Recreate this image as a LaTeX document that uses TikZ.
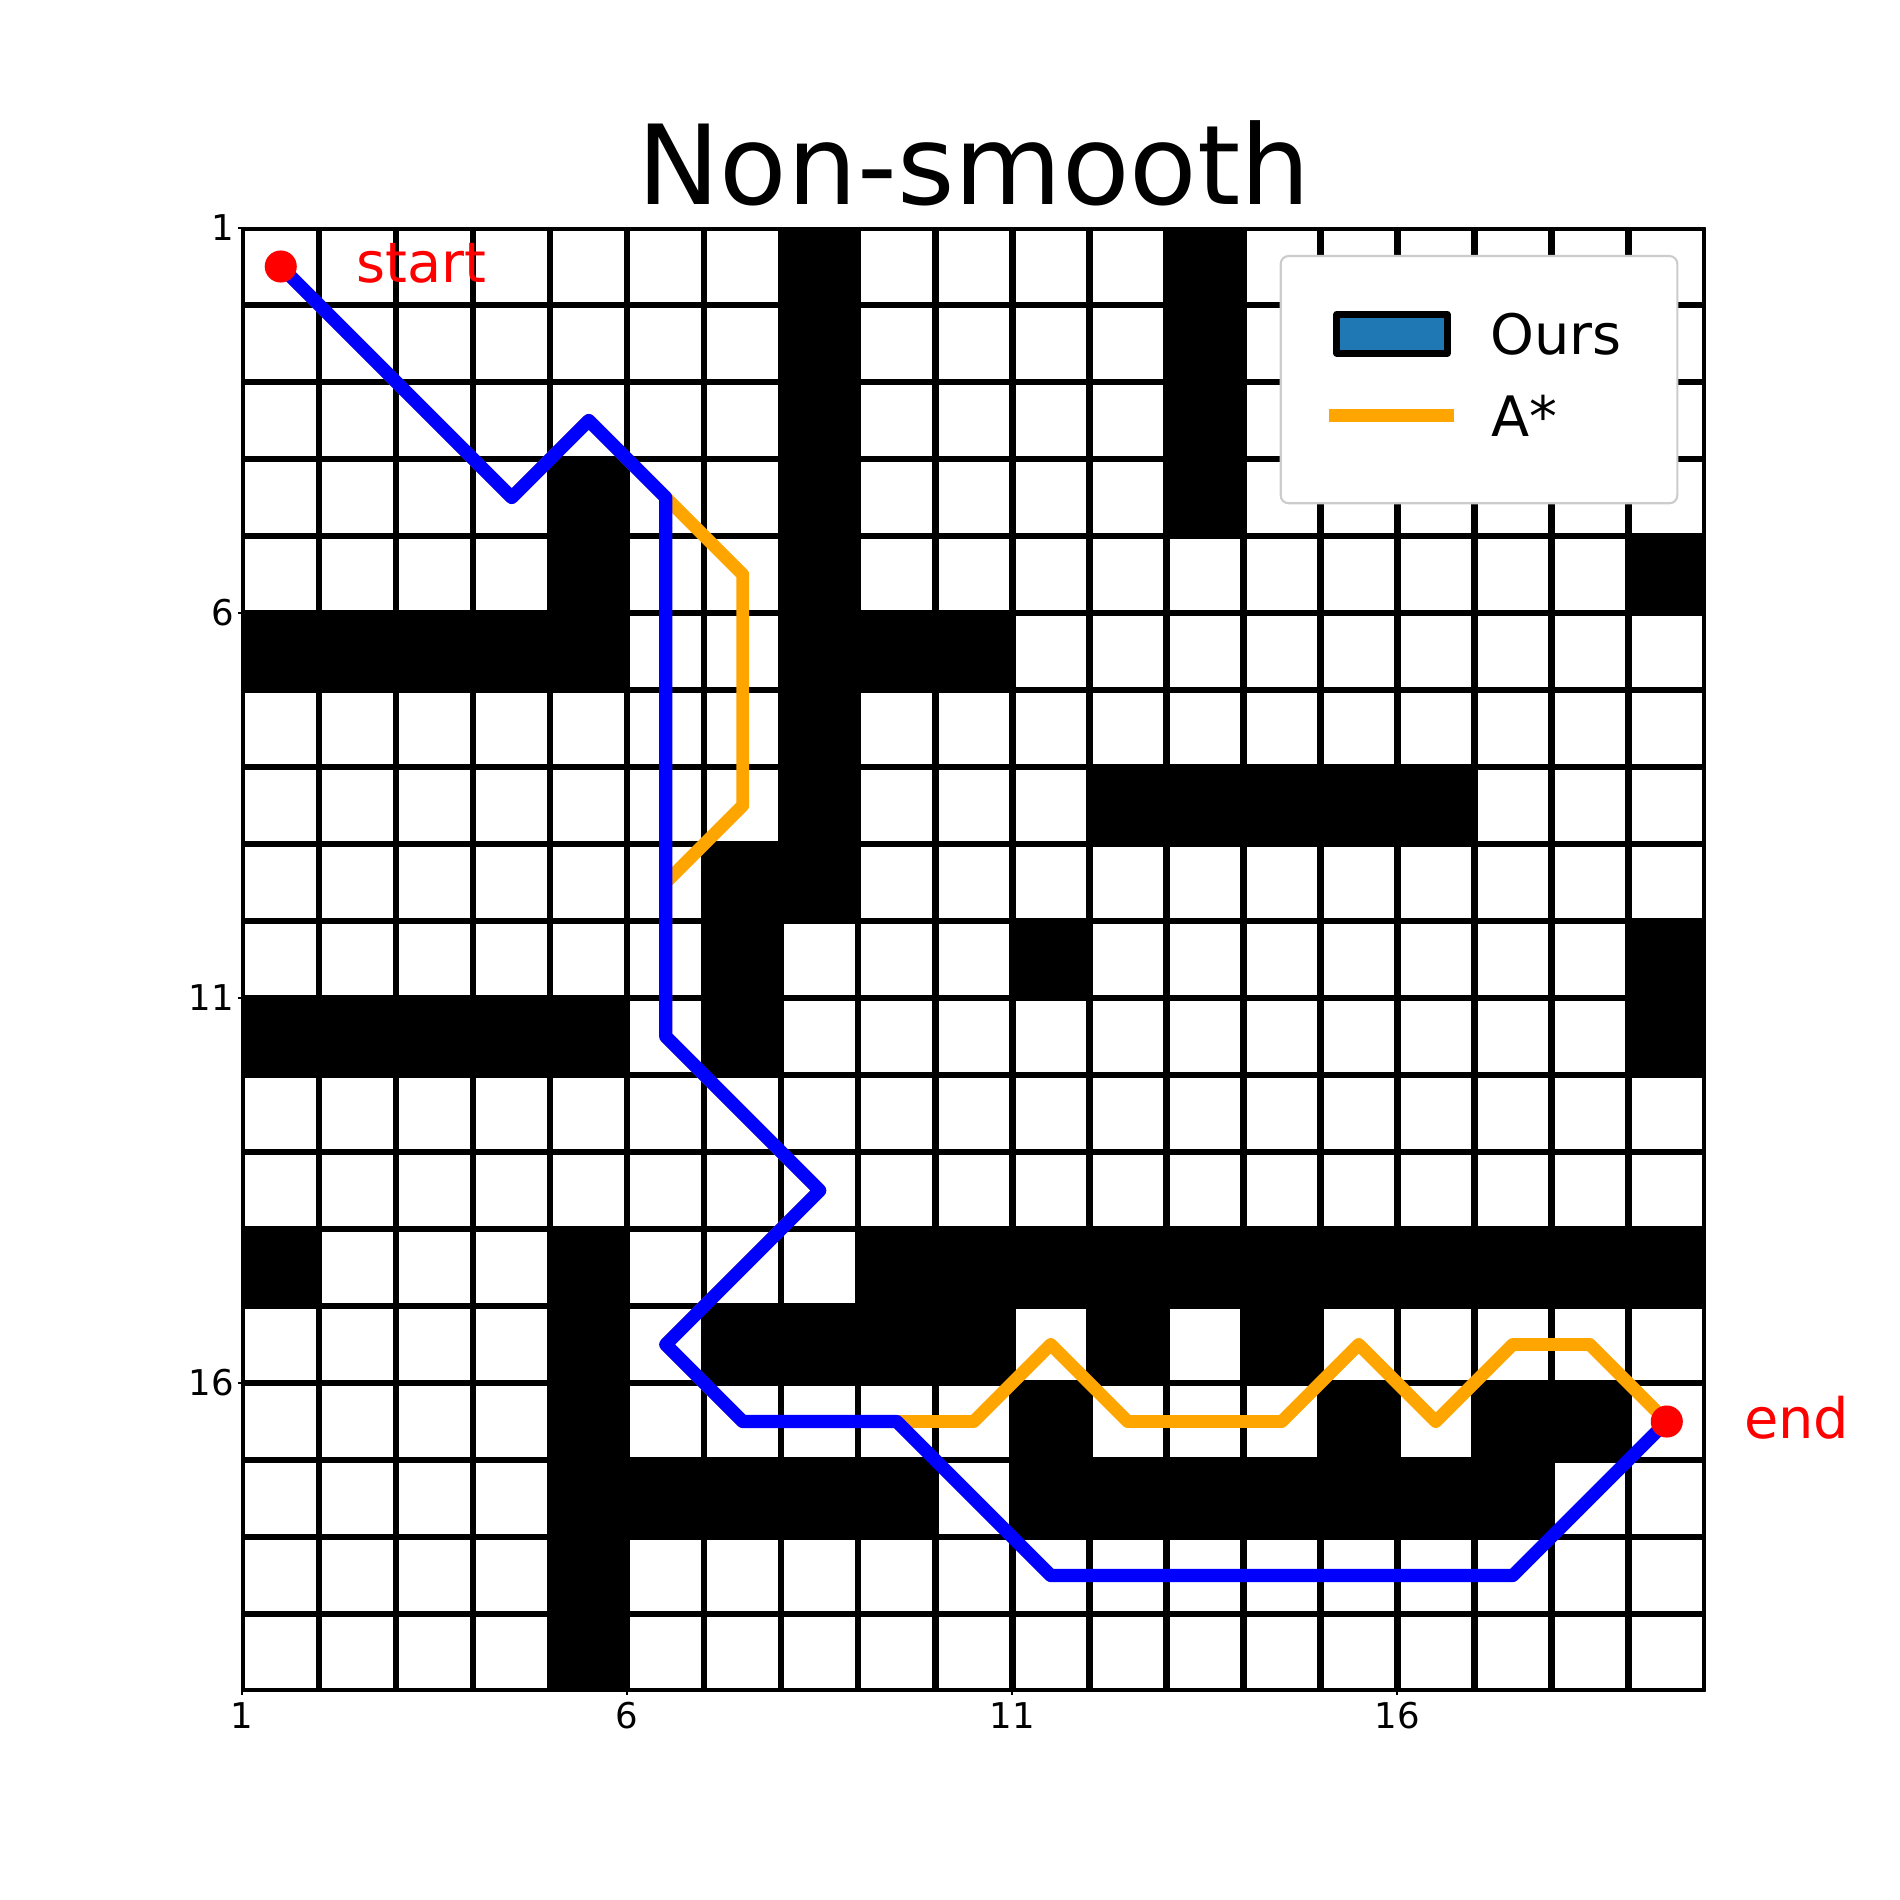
\documentclass[tikz,border=0pt]{standalone}
\usepackage{fontspec}
\setmainfont{DejaVu Sans}
\usepackage{tikz}
\usetikzlibrary{calc}
\usepackage{xcolor}
\definecolor{oursblue}{HTML}{0000FF}
\definecolor{astarorange}{HTML}{FFA500}
\definecolor{patchblue}{HTML}{1F77B4}
\definecolor{framegray}{HTML}{CCCCCC}
\newcommand{\markerradius}{6.1pt}
\tikzset{
  grid line/.style={line width=2.46pt,line cap=rect},
  wall/.style={fill=black},
  ours path/.style={draw=oursblue,line width=5pt},
  astar path/.style={draw=astarorange,line width=4.9pt},
  tick label/.style={font=\fontsize{13.5}{16}\selectfont,inner sep=0pt},
  marker label/.style={font=\fontsize{21.2}{25}\selectfont,text=red,inner sep=0pt,anchor=base west},
  legend label/.style={font=\fontsize{21.2}{25}\selectfont,inner sep=0pt,anchor=base west}
}
\newcommand{\WallCell}[2]{\fill[wall] (#1,#2) rectangle ++(1,1);}
\newcommand{\MarkerDot}[1]{\fill[red] (#1) circle (\markerradius);}

\begin{document}
\begin{tikzpicture}[x=1.02937cm,y=-1.02937cm,line join=round]
  \useasboundingbox (-2.146,-1.961) rectangle (22.529,22.714);
  \fill[white] (-2.146,-1.961) rectangle (22.529,22.714);

  % map
  \begin{scope}
    \clip (1,1) rectangle (20,20);
    \foreach \r/\cols in {1/{8,13},2/{8,13},3/{8,13},4/{5,8,13},5/{5,8,19},
        6/{1,2,3,4,5,8,9,10},7/{8},8/{8,12,13,14,15,16},9/{7,8},10/{7,11,19},
        11/{1,2,3,4,5,7,19},14/{1,5,9,10,11,12,13,14,15,16,17,18,19},
        15/{5,7,8,9,10,12,14},16/{5,11,15,17,18},
        17/{5,6,7,8,9,11,12,13,14,15,16,17},18/{5},19/{5}}
      {\foreach \c in \cols {\WallCell{\c}{\r}}}
    \foreach \k in {1,...,20} {
      \draw[grid line] (\k,1) -- (\k,20);
      \draw[grid line] (1,\k) -- (20,\k);
    }
  \end{scope}
  \draw[line width=0.8pt] (1,1) rectangle (20,20);

  \foreach \t in {1,6,11,16} {
    \draw[line width=0.8pt] (\t,20) -- ++(0,0.055);
    \node[tick label,anchor=north] (xt\t) at (\t,20.139) {\t};
    \draw[line width=0.8pt] (1,\t) -- ++(-0.055,0);
    \node[tick label,anchor=east] (yt\t) at (0.90,\t) {\t};
  }

  \coordinate (start) at ( 1.5, 1.5);
  \coordinate (end)   at (19.5,16.5);
  \coordinate (o1)  at ( 4.5, 4.5);
  \coordinate (o2)  at ( 5.5, 3.5);
  \coordinate (o3)  at ( 6.5, 4.5);
  \coordinate (o4)  at ( 6.5,11.5);
  \coordinate (o5)  at ( 8.5,13.5);
  \coordinate (o6)  at ( 6.5,15.5);
  \coordinate (o7)  at ( 7.5,16.5);
  \coordinate (o8)  at ( 9.5,16.5);
  \coordinate (o9)  at (11.5,18.5);
  \coordinate (o10) at (17.5,18.5);
  \coordinate (a1)  at ( 7.5, 5.5);
  \coordinate (a2)  at ( 7.5, 8.5);
  \coordinate (a3)  at ( 6.5, 9.5);
  \coordinate (a4)  at (10.5,16.5);
  \coordinate (a5)  at (11.5,15.5);
  \coordinate (a6)  at (12.5,16.5);
  \coordinate (a7)  at (14.5,16.5);
  \coordinate (a8)  at (15.5,15.5);
  \coordinate (a9)  at (16.5,16.5);
  \coordinate (a10) at (17.5,15.5);
  \coordinate (a11) at (18.5,15.5);

  \draw[astar path] (start) -- (o1) -- (o2) -- (o3) -- (a1) -- (a2) -- (a3)
        -- (o4) -- (o5) -- (o6) -- (o7) -- (o8) -- (a4) -- (a5) -- (a6)
        -- (a7) -- (a8) -- (a9) -- (a10) -- (a11) -- (end);
  \draw[ours path] (start) -- (o1) -- (o2) -- (o3) -- (o4) -- (o5) -- (o6)
        -- (o7) -- (o8) -- (o9) -- (o10) -- (end);

  \foreach \p in {start,end} {\MarkerDot{\p}}
  \node[marker label] (startlabel) at ( 2.48, 1.714) {start};
  \node[marker label] (endlabel)   at (20.50,16.714) {end};

  % legend
  \draw[draw=framegray,fill=white,line width=0.8pt,rounded corners=3pt]
    (14.486,1.364) rectangle (19.637,4.575);
  \draw[fill=patchblue,line width=2.5pt] (15.213,2.121) rectangle (16.650,2.627);
  \draw[draw=astarorange,line width=4.9pt] (15.113,3.439) -- (16.737,3.439);
  \node[legend label] (oursentry)  at (17.20,2.649) {Ours};
  \node[legend label] (astarentry) at (17.22,3.710) {A*};

  \node[font=\fontsize{42}{50}\selectfont,anchor=base,inner sep=0pt] (title) at (10.5,0.70) {Non-smooth};
\end{tikzpicture}
\end{document}
